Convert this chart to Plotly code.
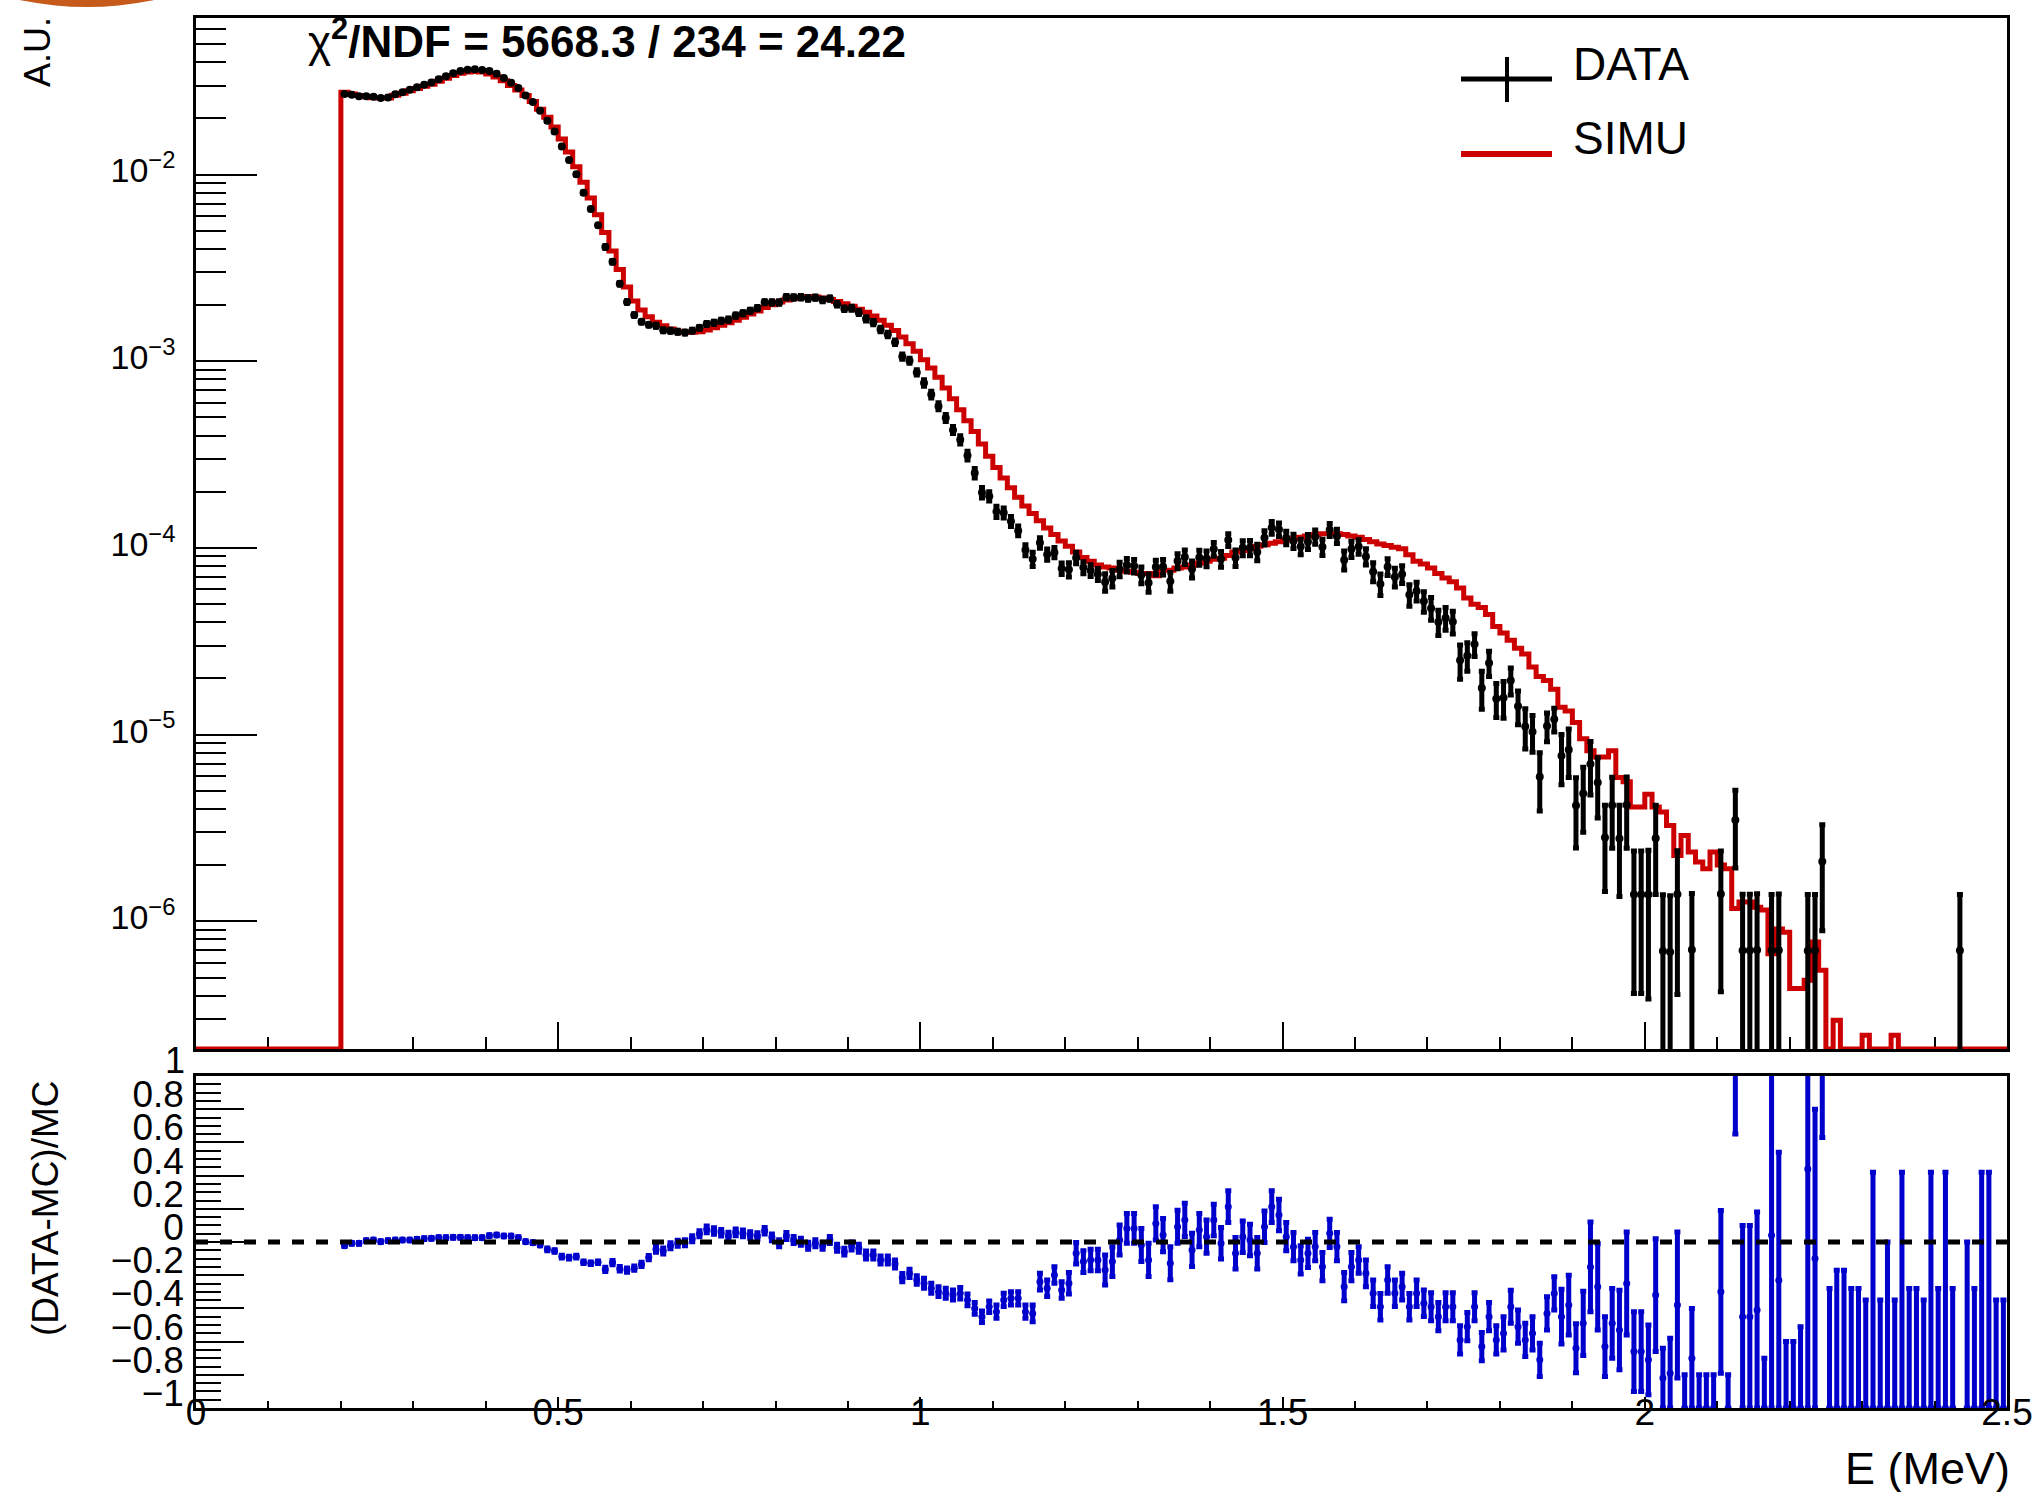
import numpy as np
import plotly.graph_objects as go

# ---------------------------------------------------------------
# Energy spectrum, 10 keV bins starting at 0.20 MeV
# ---------------------------------------------------------------
BIN_LO = 0.20
BIN_W = 0.01

# Simulated spectrum (A.U.) per bin
simu = [
    0.0276, 0.0270, 0.0265, 0.0261, 0.0258, 0.0257, 0.0257, 0.0266, 0.0273, 0.0281,   # 0.20
    0.0289, 0.0297, 0.0305, 0.0316, 0.0328, 0.0340, 0.0349, 0.0355, 0.0357, 0.0354,   # 0.30
    0.0346, 0.0333, 0.0318, 0.0300, 0.0284, 0.0265, 0.0246, 0.0224, 0.0203, 0.0180,   # 0.40
    0.0155, 0.0132, 0.0110, 0.0091, 0.0075, 0.0061, 0.0049, 0.0039, 0.0031, 0.0025,   # 0.50
    0.00210, 0.00188, 0.00173, 0.00162, 0.00155, 0.00149, 0.00145, 0.00143, 0.00143, 0.00144,  # 0.60
    0.00147, 0.00151, 0.00156, 0.00161, 0.00166, 0.00172, 0.00179, 0.00186, 0.00194, 0.00201,  # 0.70
    0.00208, 0.00213, 0.00217, 0.00220, 0.00222, 0.00221, 0.00218, 0.00214, 0.00209, 0.00203,  # 0.80
    0.00197, 0.00190, 0.00183, 0.00175, 0.00166, 0.00156, 0.00146, 0.00135, 0.00124, 0.00113,  # 0.90
    0.00102, 0.00092, 0.00082, 0.00072, 0.00063, 0.00055, 0.00048, 0.00042, 0.00036, 0.00031,  # 1.00
    2.70e-4, 2.37e-4, 2.10e-4, 1.87e-4, 1.68e-4, 1.53e-4, 1.40e-4, 1.28e-4, 1.18e-4, 1.09e-4,  # 1.10
    1.02e-4, 9.5e-5, 8.9e-5, 8.5e-5, 8.1e-5, 7.9e-5, 7.8e-5, 7.6e-5, 7.5e-5, 7.4e-5,         # 1.20
    7.3e-5, 7.3e-5, 7.1e-5, 7.6e-5, 7.6e-5, 7.8e-5, 7.9e-5, 8.1e-5, 8.3e-5, 8.5e-5,          # 1.30
    8.7e-5, 8.8e-5, 9.1e-5, 9.5e-5, 9.7e-5, 9.9e-5, 1.02e-4, 1.04e-4, 1.06e-4, 1.08e-4,      # 1.40
    1.10e-4, 1.12e-4, 1.14e-4, 1.16e-4, 1.18e-4, 1.19e-4, 1.19e-4, 1.19e-4, 1.18e-4, 1.16e-4, # 1.50
    1.14e-4, 1.11e-4, 1.08e-4, 1.05e-4, 1.03e-4, 1.01e-4, 9.9e-5, 9.2e-5, 8.5e-5, 8.2e-5,    # 1.60
    7.8e-5, 7.3e-5, 6.9e-5, 6.6e-5, 6.1e-5, 5.4e-5, 5.0e-5, 4.8e-5, 4.4e-5, 3.8e-5,          # 1.70
    3.5e-5, 3.2e-5, 2.9e-5, 2.7e-5, 2.3e-5, 2.05e-5, 1.95e-5, 1.75e-5, 1.40e-5, 1.34e-5,     # 1.80
    1.16e-5, 9.5e-6, 8.2e-6, 7.6e-6, 7.6e-6, 8.2e-6, 5.9e-6, 5.6e-6, 4.1e-6, 4.1e-6,         # 1.90
    4.8e-6, 4.1e-6, 3.85e-6, 3.26e-6, 2.25e-6, 2.88e-6, 2.35e-6, 2.08e-6, 1.91e-6, 2.35e-6,  # 2.00
    2.0e-6, 1.91e-6, 1.17e-6, 1.27e-6, 1.27e-6, 1.19e-6, 1.15e-6, 6.7e-7, 9.1e-7, 8.75e-7,   # 2.10
    4.36e-7, 4.36e-7, 4.83e-7, 7.74e-7, 5.46e-7, 1.5e-7, 2.95e-7, 1.5e-7, 1.5e-7, 1.5e-7,    # 2.20
    2.45e-7, 1.5e-7, 1.5e-7, 1.5e-7, 2.45e-7, 1.5e-7, 1.5e-7, 1.5e-7, 1.5e-7, 1.5e-7,        # 2.30
    1.5e-7, 1.5e-7, 1.5e-7, 0.0, 1.5e-7, 1.5e-7, 1.5e-7, 1.5e-7, 1.5e-7, 1.5e-7,             # 2.40
]

# (DATA - MC) / MC per bin
ratio = [
    -0.022, -0.008, -0.008, 0.008, 0.012, 0.002, 0.008, 0.012, 0.012, 0.012,
    0.016, 0.020, 0.022, 0.026, 0.026, 0.028, 0.028, 0.026, 0.026, 0.026,
    0.038, 0.042, 0.036, 0.036, 0.026, 0.002, -0.004, -0.018, -0.044, -0.054,
    -0.088, -0.094, -0.088, -0.122, -0.128, -0.122, -0.165, -0.124, -0.161, -0.169,
    -0.157, -0.135, -0.094, -0.044, -0.054, -0.022, -0.008, -0.004, 0.020, 0.050,
    0.076, 0.066, 0.056, 0.038, 0.058, 0.052, 0.042, 0.036, 0.068, 0.028,
    -0.008, 0.036, 0.012, 0.002, -0.022, -0.008, -0.022, 0.012, -0.034, -0.058,
    -0.024, -0.038, -0.078, -0.078, -0.108, -0.108, -0.133, -0.215, -0.189, -0.229,
    -0.249, -0.279, -0.299, -0.309, -0.319, -0.309, -0.349, -0.400, -0.450, -0.390,
    -0.420, -0.349, -0.339, -0.339, -0.420, -0.430, -0.239, -0.279, -0.199, -0.289,
    -0.249, -0.068, -0.118, -0.108, -0.108, -0.169, -0.118, 0.012, 0.082, 0.082,
    -0.018, -0.108, 0.112, 0.042, -0.128, 0.092, 0.133, -0.048, 0.072, 0.032,
    0.133, -0.008, 0.213, -0.068, 0.032, 0.012, -0.068, 0.092, 0.213, 0.163,
    0.032, -0.028, -0.108, -0.068, -0.028, -0.149, 0.052, -0.028, -0.269, -0.149,
    -0.108, -0.189, -0.309, -0.390, -0.229, -0.309, -0.269, -0.390, -0.309, -0.369,
    -0.390, -0.450, -0.390, -0.390, -0.590, -0.510, -0.390, -0.630, -0.450, -0.590,
    -0.550, -0.390, -0.510, -0.590, -0.550, -0.710, -0.430, -0.310, -0.450, -0.380,
    -0.640, -0.490, -0.150, -0.270, -0.630, -0.490, -0.530, -0.250, -0.660, -0.660,
    -0.710, -0.320, -0.820, -0.790, -0.380, -1.000, -0.700, -1.000, -1.000, -1.000,
    -0.300, -1.000, 1.980, -0.450, -0.450, -0.410, -1.000, 0.040, -0.230, -1.000,
    -1.000, -1.000, 0.440, -0.100, 2.830, -1.000, -1.000, -1.000, -1.000, -1.000,
    -1.000, -1.000, -1.000, -1.000, -1.000, -1.000, -1.000, -1.000, -1.000, -1.000,
    -1.000, -1.000, -1.000, 0.000, -1.000, -1.000, -1.000, -1.000, -1.000, -1.000,
]

ratio_err = [
    0.005, 0.005, 0.005, 0.005, 0.005, 0.005, 0.005, 0.005, 0.005, 0.005,
    0.005, 0.005, 0.005, 0.005, 0.005, 0.005, 0.005, 0.005, 0.005, 0.005,
    0.005, 0.005, 0.005, 0.005, 0.005, 0.005, 0.005, 0.005, 0.008, 0.008,
    0.008, 0.008, 0.008, 0.008, 0.008, 0.008, 0.013, 0.013, 0.013, 0.013,
    0.013, 0.013, 0.013, 0.018, 0.018, 0.018, 0.018, 0.018, 0.018, 0.018,
    0.020, 0.020, 0.020, 0.020, 0.020, 0.020, 0.020, 0.020, 0.020, 0.020,
    0.021, 0.021, 0.021, 0.021, 0.021, 0.021, 0.021, 0.021, 0.021, 0.021,
    0.024, 0.024, 0.024, 0.024, 0.024, 0.024, 0.024, 0.025, 0.025, 0.025,
    0.030, 0.030, 0.030, 0.030, 0.030, 0.035, 0.035, 0.035, 0.035, 0.035,
    0.040, 0.040, 0.040, 0.040, 0.040, 0.050, 0.050, 0.050, 0.050, 0.050,
    0.065, 0.065, 0.065, 0.065, 0.065, 0.090, 0.090, 0.090, 0.090, 0.090,
    0.100, 0.100, 0.100, 0.100, 0.100, 0.100, 0.100, 0.100, 0.100, 0.100,
    0.095, 0.095, 0.095, 0.095, 0.095, 0.095, 0.095, 0.095, 0.095, 0.095,
    0.085, 0.085, 0.085, 0.085, 0.085, 0.085, 0.085, 0.085, 0.085, 0.085,
    0.080, 0.080, 0.080, 0.080, 0.080, 0.080, 0.080, 0.080, 0.080, 0.080,
    0.085, 0.085, 0.085, 0.085, 0.085, 0.085, 0.085, 0.085, 0.085, 0.085,
    0.100, 0.100, 0.100, 0.100, 0.100, 0.100, 0.100, 0.100, 0.165, 0.180,
    0.147, 0.194, 0.270, 0.260, 0.180, 0.210, 0.240, 0.310, 0.240, 0.240,
    0.210, 0.340, 0.180, 0.210, 0.440, 0.200, 0.300, 0.200, 0.200, 0.200,
    0.490, 0.200, 1.330, 0.550, 0.550, 0.590, 0.300, 1.040, 0.770, 0.400,
    0.400, 0.490, 1.440, 0.900, 2.200, 0.720, 0.830, 0.830, 0.720, 0.720,
    0.650, 1.420, 0.650, 1.000, 0.650, 1.420, 0.720, 0.720, 0.650, 1.420,
    0.720, 1.420, 0.720, 0.000, 1.000, 0.720, 1.420, 1.420, 0.650, 0.650,
]

# Data bins whose simulated content is empty (no ratio available)
lone_data_e = [2.435]
lone_data_val = [6.97e-7]
lone_data_err = [6.97e-7]

Y_MIN, Y_MAX = 2.07e-7, 0.069     # upper pad (log) range
R_MIN, R_MAX = -1.0, 1.0          # ratio pad range

# ---------------------------------------------------------------
n_bins = len(simu)
edges = BIN_LO + BIN_W * np.arange(n_bins + 1)
centers = edges[:-1] + BIN_W / 2
s = np.array(simu, dtype=float)
r = np.array(ratio, dtype=float)
re = np.array(ratio_err, dtype=float)

data = s * (1 + r)
data_err = s * re

# data points (empty bins are not drawn)
d_x, d_y, d_up, d_dn = [], [], [], []
for x, v, e in list(zip(centers, data, data_err)) + list(zip(lone_data_e, lone_data_val, lone_data_err)):
    if v > 0:
        d_x.append(x)
        d_y.append(v)
        d_up.append(e)
        d_dn.append(min(e, v - 1e-12))

# ratio points (bins with an empty simulation are skipped)
mask = s > 0
rx = centers[mask]
ry = r[mask]
rerr = re[mask]

# simulated histogram as a step line (bins below the pad minimum sit on the frame)
s_draw = np.maximum(s, Y_MIN)
step_x = [0.0] + list(edges)
step_y = [Y_MIN] + list(s_draw) + [s_draw[-1]]

# ---------------------------------------------------------------
W, H = 2036, 1492
ML, MR, MT, MB = 196, 29, 18, 84
PW, PH = W - ML - MR, H - MT - MB


def px(x):
    return (x - ML) / PW


def py(y):
    return (H - MB - y) / PH


FONT = "Liberation Sans, Arial, Helvetica, sans-serif"
RED = "#cc0000"
BLUE = "#0000cc"

fig = go.Figure()

fig.add_trace(go.Scatter(
    x=step_x, y=step_y, mode="lines", line=dict(color=RED, width=5, shape="hv"),
    xaxis="x", yaxis="y", hoverinfo="skip", showlegend=False,
))

fig.add_trace(go.Scatter(
    x=d_x, y=d_y, mode="markers",
    marker=dict(color="black", size=8, symbol="circle"),
    error_y=dict(type="data", array=d_up, arrayminus=d_dn, symmetric=False,
                 color="black", thickness=5, width=3),
    xaxis="x", yaxis="y", showlegend=False,
))

fig.add_trace(go.Scatter(
    x=rx, y=ry, mode="markers",
    marker=dict(color=BLUE, size=7, symbol="circle"),
    error_y=dict(type="data", array=rerr, color=BLUE, thickness=5, width=3),
    xaxis="x2", yaxis="y2", showlegend=False,
))

up_bottom = py(1049)
lo_top = py(1076)

# log-axis minor ticks (2..9 x 10^k)
minor_vals = [m * 10.0 ** k for k in range(-7, -1) for m in range(2, 10)
              if Y_MIN <= m * 10.0 ** k <= Y_MAX]
decades = [1e-6, 1e-5, 1e-4, 1e-3, 1e-2]
decade_text = ["10<sup>\u22126</sup>", "10<sup>\u22125</sup>", "10<sup>\u22124</sup>",
               "10<sup>\u22123</sup>", "10<sup>\u22122</sup>"]

ratio_ticks = [-1, -0.8, -0.6, -0.4, -0.2, 0, 0.2, 0.4, 0.6, 0.8]
ratio_text = ["\u22121", "\u22120.8", "\u22120.6", "\u22120.4", "\u22120.2", "0", "0.2", "0.4", "0.6", "0.8"]

axis_common = dict(showline=True, linecolor="black", linewidth=2.5, mirror=True, automargin=False,
                   showgrid=False, zeroline=False, tickcolor="black", tickwidth=2)

fig.update_layout(
    width=W, height=H, autosize=False,
    margin=dict(l=ML, r=MR, t=MT, b=MB, pad=0, autoexpand=False),
    paper_bgcolor="white", plot_bgcolor="white",
    font=dict(family=FONT, color="black"),
    showlegend=False,
    xaxis=dict(domain=[0, 1], anchor="y", range=[0, 2.5], showticklabels=False,
               ticks="inside", ticklen=27, tickmode="linear", tick0=0, dtick=0.5,
               minor=dict(ticks="inside", ticklen=12, tickmode="linear", tick0=0, dtick=0.1,
                          tickcolor="black", tickwidth=2),
               layer="below traces", **axis_common),
    yaxis=dict(domain=[up_bottom, 1], anchor="x", type="log",
               range=[np.log10(Y_MIN), np.log10(Y_MAX)],
               ticks="inside", ticklen=61, tickmode="array", tickvals=decades, ticktext=decade_text,
               tickfont=dict(size=34, family=FONT),
               ticklabelstandoff=11, ticklabelshift=-4,
               minor=dict(ticks="inside", ticklen=30, tickvals=minor_vals,
                          tickcolor="black", tickwidth=2),
               **axis_common),
    xaxis2=dict(domain=[0, 1], anchor="y2", range=[0, 2.5], ticks="inside", ticklen=11,
                tickmode="array", tickvals=[0, 0.5, 1, 1.5, 2, 2.5],
                ticktext=["0", "0.5", "1", "1.5", "2", "2.5"],
                tickfont=dict(size=37, family=FONT), ticklabelstandoff=-30,
                minor=dict(ticks="inside", ticklen=7, tickmode="linear", tick0=0, dtick=0.1,
                           tickcolor="black", tickwidth=2),
                **axis_common),
    yaxis2=dict(domain=[0, lo_top], anchor="x2", range=[R_MIN, R_MAX],
                ticks="inside", ticklen=48, tickmode="array", tickvals=ratio_ticks, ticktext=ratio_text,
                tickfont=dict(size=37, family=FONT), ticklabelstandoff=2, ticklabelshift=-15,
                minor=dict(ticks="inside", ticklen=25, tickmode="linear", tick0=-1, dtick=0.05,
                           tickcolor="black", tickwidth=2),
                **axis_common),
)

# zero reference line in the ratio pad
fig.add_shape(type="line", xref="x2", yref="y2", x0=0, x1=2.5, y0=0, y1=0,
              line=dict(color="black", width=5, dash="12px,12px"), layer="above")

# legend drawn by hand: DATA cross and SIMU line
fig.add_shape(type="line", xref="paper", yref="paper", x0=px(1461), x1=px(1552), y0=py(79), y1=py(79),
              line=dict(color="black", width=5))
fig.add_shape(type="line", xref="paper", yref="paper", x0=px(1507), x1=px(1507), y0=py(57), y1=py(102),
              line=dict(color="black", width=4))
fig.add_shape(type="line", xref="paper", yref="paper", x0=px(1461), x1=px(1552), y0=py(154), y1=py(154),
              line=dict(color=RED, width=6))

# corner emblem
fig.add_shape(type="circle", xref="paper", yref="paper",
              x0=px(87 - 324), x1=px(87 + 324), y0=py(7), y1=py(7 - 648),
              fillcolor="#c55a1a", line=dict(width=0), layer="above")

annotations = [
    dict(text="DATA", x=px(1571), y=py(64), xanchor="left", yanchor="middle", font=dict(size=46)),
    dict(text="SIMU", x=px(1571), y=py(138), xanchor="left", yanchor="middle", font=dict(size=46)),
    dict(text="\u03c7<b><sup>2</sup>/NDF = 5668.3 / 234 = 24.22</b>", x=px(306), y=py(38),
         xanchor="left", yanchor="middle", font=dict(size=44)),
    dict(text="A.U.", x=px(38), y=py(15), xanchor="center", yanchor="top", textangle=-90,
         font=dict(size=36)),
    dict(text="(DATA-MC)/MC", x=px(45), y=py(1208), xanchor="center", yanchor="middle", textangle=-90,
         font=dict(size=37)),
    dict(text="E (MeV)", x=px(2012), y=py(1469), xanchor="right", yanchor="middle", font=dict(size=45)),
    dict(text="1", x=px(187), y=py(1060), xanchor="right", yanchor="middle", font=dict(size=36)),
]
for a in annotations:
    a.update(xref="paper", yref="paper", showarrow=False)
    a.setdefault("font", {})
    a["font"].setdefault("family", FONT)
    a["font"].setdefault("color", "black")
fig.update_layout(annotations=annotations)

fig.write_html("out.html")
